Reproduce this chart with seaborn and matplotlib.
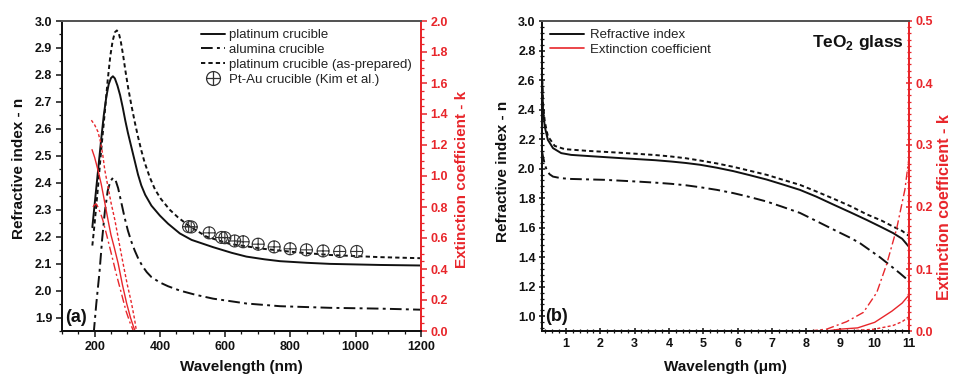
import numpy as np
import pandas as pd
import matplotlib
matplotlib.use("Agg")
import matplotlib.pyplot as plt
from matplotlib.path import Path
from matplotlib.lines import Line2D
from matplotlib.ticker import MultipleLocator, FormatStrFormatter
import seaborn as sns

# ---------------- data: panel (a) ----------------
wl_pt = [193, 200, 210, 220, 228, 236, 243, 250, 256, 262, 270, 278, 286, 294, 302, 313, 323, 333,
         343, 355, 374, 400, 425, 461, 497, 563, 620, 665, 720, 768, 850, 921, 1074, 1200]
n_pt = [2.235, 2.32, 2.44, 2.56, 2.65, 2.72, 2.765, 2.788, 2.795, 2.787, 2.76, 2.725, 2.68, 2.63,
        2.585, 2.53, 2.48, 2.43, 2.39, 2.355, 2.315, 2.278, 2.248, 2.212, 2.188, 2.161, 2.14, 2.126,
        2.116, 2.109, 2.103, 2.099, 2.095, 2.093]

wl_asp = [193, 200, 210, 220, 231, 240, 248, 255, 262, 268, 274, 280, 287, 295, 303, 313, 323, 333,
          343, 353, 369, 385, 403, 430, 455, 491, 543, 614, 716, 818, 921, 1074, 1200]
n_asp = [2.167, 2.25, 2.38, 2.52, 2.66, 2.78, 2.87, 2.925, 2.958, 2.965, 2.955, 2.925, 2.875, 2.81,
         2.75, 2.685, 2.625, 2.57, 2.52, 2.476, 2.42, 2.375, 2.34, 2.30, 2.272, 2.238, 2.20, 2.173,
         2.155, 2.142, 2.132, 2.124, 2.12]

wl_al = [197, 205, 215, 223, 231, 240, 248, 256, 264, 272, 282, 292, 302, 313, 323, 335, 348, 360,
         374, 400, 425, 461, 507, 563, 665, 768, 921, 1074, 1200]
n_al = [1.84, 1.95, 2.07, 2.19, 2.29, 2.37, 2.405, 2.418, 2.41, 2.38, 2.325, 2.27, 2.222, 2.18,
        2.148, 2.115, 2.088, 2.068, 2.05, 2.03, 2.016, 2.0, 1.985, 1.97, 1.952, 1.942, 1.936, 1.933, 1.929]

wl_kim = [488, 496, 551, 589, 599, 629, 655, 701, 750, 799, 849, 900, 951, 1003]
n_kim = [2.237, 2.236, 2.214, 2.197, 2.196, 2.184, 2.181, 2.172, 2.162, 2.155, 2.151, 2.147, 2.145, 2.145]

wl_k_pt = [192, 200, 210, 220, 230, 241, 250, 260, 272, 285, 298, 310, 319, 324]
k_pt = [1.17, 1.12, 1.04, 0.95, 0.84, 0.716, 0.62, 0.54, 0.437, 0.30, 0.179, 0.085, 0.028, 0.0]

wl_k_asp = [190, 200, 210, 218, 225, 231, 240, 250, 262, 275, 287, 300, 313, 322, 328]
k_asp = [1.36, 1.33, 1.286, 1.22, 1.135, 1.04, 0.94, 0.83, 0.716, 0.57, 0.437, 0.30, 0.179, 0.08, 0.0]

wl_k_al = [195, 200, 205, 210, 218, 225, 238, 251, 266, 282, 296, 309, 319]
k_al = [0.80, 0.815, 0.82, 0.80, 0.76, 0.716, 0.61, 0.50, 0.37, 0.243, 0.13, 0.05, 0.0]

# ---------------- data: panel (b) ----------------
um_pt = [0.3, 0.33, 0.38, 0.47, 0.62, 0.86, 1.15, 1.6, 2.13, 2.6, 3.1, 3.6, 4.07, 4.5, 4.91, 5.4,
         5.88, 6.35, 6.85, 7.3, 7.82, 8.3, 8.79, 9.3, 9.77, 10.2, 10.54, 10.8, 11.0]
nb_pt = [2.62, 2.40, 2.285, 2.195, 2.139, 2.105, 2.093, 2.086, 2.078, 2.071, 2.064, 2.057, 2.048,
         2.038, 2.026, 2.006, 1.983, 1.956, 1.926, 1.894, 1.856, 1.81, 1.757, 1.703, 1.652, 1.603,
         1.563, 1.525, 1.47]

um_asp = [0.3, 0.33, 0.38, 0.47, 0.67, 0.96, 1.64, 2.4, 3.1, 3.6, 4.07, 4.5, 4.91, 5.4, 5.88, 6.35,
          6.85, 7.3, 7.82, 8.3, 8.79, 9.3, 9.77, 10.2, 10.54, 10.8, 11.0]
nb_asp = [2.65, 2.44, 2.32, 2.22, 2.154, 2.132, 2.12, 2.11, 2.10, 2.092, 2.082, 2.07, 2.055, 2.035,
          2.012, 1.986, 1.958, 1.926, 1.89, 1.845, 1.797, 1.745, 1.69, 1.648, 1.607, 1.578, 1.544]

um_al = [0.3, 0.33, 0.38, 0.43, 0.52, 0.62, 0.86, 1.15, 2.13, 3.1, 3.6, 4.07, 4.5, 4.91, 5.4, 5.88,
         6.35, 6.85, 7.3, 7.82, 8.3, 8.79, 9.3, 9.57, 10.15, 10.5, 10.74, 11.0]
nb_al = [2.12, 2.08, 2.03, 1.995, 1.962, 1.946, 1.935, 1.93, 1.924, 1.912, 1.905, 1.897, 1.887,
         1.874, 1.856, 1.834, 1.808, 1.777, 1.742, 1.70, 1.645, 1.588, 1.53, 1.495, 1.40, 1.335,
         1.29, 1.238]

um_k_al = [8.1, 8.6, 9.18, 9.67, 10.06, 10.35, 10.64, 10.88, 11.0]
kb_al = [0.0, 0.003, 0.015, 0.03, 0.062, 0.108, 0.165, 0.228, 0.28]

um_k_pt = [8.6, 9.0, 9.5, 10.0, 10.5, 10.8, 11.0]
kb_pt = [0.0, 0.003, 0.005, 0.014, 0.032, 0.045, 0.058]

um_k_asp = [9.0, 9.5, 10.0, 10.54, 10.8, 11.0]
kb_asp = [0.0, 0.001, 0.003, 0.009, 0.015, 0.023]

# ---------------- style ----------------
sns.set_style("ticks")
plt.rcParams['font.family'] = ['Liberation Sans', 'DejaVu Sans']
plt.rcParams['mathtext.fontset'] = 'custom'
plt.rcParams['mathtext.rm'] = 'Liberation Sans'
plt.rcParams['mathtext.bf'] = 'Liberation Sans:bold'

RED = '#e8262b'
BLACK = '#111111'
LS_SOLID = '-'
LS_DASH = (0, (2.2, 1.6))
LS_DASHDOT = (0, (6, 2.2, 1.5, 2.2))

fig = plt.figure(figsize=(9.56, 3.74), dpi=100)
axA = fig.add_axes([62 / 956, 43 / 374, 359 / 956, 310 / 374])
axB = fig.add_axes([542 / 956, 43 / 374, 367 / 956, 310 / 374])
axA2 = axA.twinx()
axB2 = axB.twinx()


def line(ax, x, y, color, ls, lw):
    sns.lineplot(x=x, y=y, ax=ax, color=color, linestyle=ls, linewidth=lw,
                 sort=False, estimator=None)


# panel (a)
line(axA, wl_pt, n_pt, BLACK, LS_SOLID, 1.4)
line(axA, wl_al, n_al, BLACK, LS_DASHDOT, 1.4)
line(axA, wl_asp, n_asp, BLACK, LS_DASH, 1.4)

oplus = Path.make_compound_path(
    Path.unit_circle(),
    Path([(-1, 0), (1, 0)], [Path.MOVETO, Path.LINETO]),
    Path([(0, -1), (0, 1)], [Path.MOVETO, Path.LINETO]),
)
sns.scatterplot(x=wl_kim, y=n_kim, ax=axA, marker=oplus, s=75, color='none',
                edgecolor='#333333', linewidth=0.8, zorder=5)

line(axA2, wl_k_pt, k_pt, RED, LS_SOLID, 1.0)
line(axA2, wl_k_al, k_al, RED, LS_DASHDOT, 1.0)
line(axA2, wl_k_asp, k_asp, RED, LS_DASH, 1.0)

# panel (b)
line(axB, um_pt, nb_pt, BLACK, LS_SOLID, 1.4)
line(axB, um_al, nb_al, BLACK, LS_DASHDOT, 1.4)
line(axB, um_asp, nb_asp, BLACK, LS_DASH, 1.4)

line(axB2, um_k_pt, kb_pt, RED, LS_SOLID, 1.0)
line(axB2, um_k_al, kb_al, RED, LS_DASHDOT, 1.0)
line(axB2, um_k_asp, kb_asp, RED, LS_DASH, 1.0)

# ---------------- axes formatting ----------------
lab_font = dict(fontsize=11, fontweight='bold')


def fmt(ax, ax2, xlim, ylim, y2lim, xmaj, xmin, ymaj, ymin, y2maj, y2min, direction, xlabel):
    ax.set_xlim(*xlim)
    ax.set_ylim(*ylim)
    ax2.set_ylim(*y2lim)
    ax.xaxis.set_major_locator(MultipleLocator(xmaj))
    ax.xaxis.set_minor_locator(MultipleLocator(xmin))
    ax.yaxis.set_major_locator(MultipleLocator(ymaj))
    ax.yaxis.set_minor_locator(MultipleLocator(ymin))
    ax2.yaxis.set_major_locator(MultipleLocator(y2maj))
    ax2.yaxis.set_minor_locator(MultipleLocator(y2min))
    ax.yaxis.set_major_formatter(FormatStrFormatter('%.1f'))
    ax2.yaxis.set_major_formatter(FormatStrFormatter('%.1f'))
    for a in (ax, ax2):
        for s in a.spines.values():
            s.set_visible(True)
            s.set_linewidth(1.4)
        a.spines['top'].set_color('#555555')
        a.spines['left'].set_color(BLACK)
        a.spines['bottom'].set_color(BLACK)
        a.spines['right'].set_color(RED)
    ax.tick_params(axis='both', which='major', direction=direction, length=4.5, width=1.1,
                   labelsize=9, colors=BLACK, pad=2.5)
    ax.tick_params(axis='both', which='minor', direction=direction, length=2.5, width=0.9, colors=BLACK)
    ax.tick_params(top=False, right=False, which='both')
    ax2.tick_params(axis='y', which='major', direction=direction, length=4.5, width=1.1,
                    labelsize=9, colors=RED, pad=2.5)
    ax2.tick_params(axis='y', which='minor', direction=direction, length=2.5, width=0.9, colors=RED)
    ax.set_xlabel(xlabel, **lab_font, color=BLACK)
    ax.set_ylabel('Refractive index - n', **lab_font, color=BLACK)
    ax2.set_ylabel('Extinction coefficient - k', fontsize=11, fontweight='bold', color=RED)


fmt(axA, axA2, (100, 1200), (1.85, 3.0), (0, 2.0), 200, 50, 0.1, 0.05, 0.2, 0.05, 'out',
    'Wavelength (nm)')
fmt(axB, axB2, (0.3, 11.0), (0.9, 3.0), (0, 0.5), 1, 0.2, 0.2, 0.04, 0.1, 0.01, 'inout',
    'Wavelength (μm)')

for a in (axA, axA2, axB, axB2):
    for lab in a.get_xticklabels() + a.get_yticklabels():
        lab.set_fontweight('bold')

axA.xaxis.set_label_coords(0.50, -0.094)
axB.xaxis.set_label_coords(0.4986, -0.094)
axA.yaxis.set_label_coords(-0.10, 0.526)
axB.yaxis.set_label_coords(-0.087, 0.516)
axA2.yaxis.set_label_coords(1.095, 0.49)
axB2.yaxis.label.set_fontsize(11.5)
axB2.yaxis.set_label_coords(1.0763, 0.40)

# legends
hA = [Line2D([], [], color=BLACK, ls=LS_SOLID, lw=1.4),
      Line2D([], [], color=BLACK, ls=LS_DASHDOT, lw=1.4),
      Line2D([], [], color=BLACK, ls=LS_DASH, lw=1.4),
      Line2D([], [], color='#333333', ls='none', marker=oplus, markersize=10,
             markerfacecolor='none', markeredgewidth=0.9)]
lA = ['platinum crucible', 'alumina crucible', 'platinum crucible (as-prepared)',
      'Pt-Au crucible (Kim et al.)']
legA = axA2.legend(hA, lA, loc='upper left', bbox_to_anchor=(0.365, 1.0), frameon=False,
                   fontsize=9.5, handlelength=1.8, handletextpad=0.35, labelspacing=0.2,
                   borderaxespad=0.2)

hB = [Line2D([], [], color=BLACK, ls='-', lw=1.4), Line2D([], [], color=RED, ls='-', lw=1.2)]
lB = ['Refractive index', 'Extinction coefficient']
legB = axB2.legend(hB, lB, loc='upper left', bbox_to_anchor=(0.0, 1.0), frameon=False,
                   fontsize=9.5, handlelength=2.6, handletextpad=0.45, labelspacing=0.2,
                   borderaxespad=0.2)
for t in legA.get_texts() + legB.get_texts():
    t.set_color('#222222')

axA.text(0.01, 0.045, '(a)', transform=axA.transAxes, fontsize=13, fontweight='bold',
         ha='left', va='center', color=BLACK)
axB.text(0.008, 0.048, '(b)', transform=axB.transAxes, fontsize=13, fontweight='bold',
         ha='left', va='center', color=BLACK)
axB.text(0.985, 0.93, r'TeO$_\mathbf{2}$ glass', transform=axB.transAxes, fontsize=12.5,
         fontweight='bold', ha='right', va='center', color=BLACK)

fig.savefig('out.png', dpi=100)
